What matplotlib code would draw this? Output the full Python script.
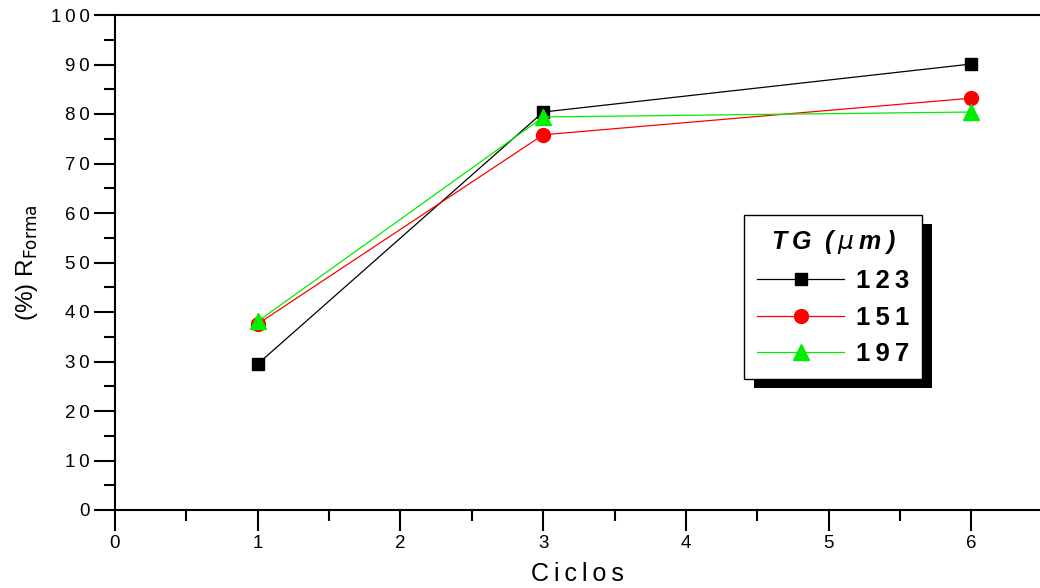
import matplotlib
matplotlib.use("Agg")
import matplotlib.pyplot as plt
from matplotlib.patches import Rectangle
from matplotlib.transforms import IdentityTransform
from matplotlib.ticker import MultipleLocator, FuncFormatter

plt.rcParams['font.family'] = ['Liberation Sans', 'DejaVu Sans']

ciclos = [1, 3, 6]
tg_123 = [29.5, 80.4, 90.1]
tg_151 = [37.6, 75.8, 83.2]
tg_197 = [38.1, 79.4, 80.4]
etiquetas = ['123', '151', '197']

TS = '\u2009'  # espacio fino para separar las letras como en el original


def espaciado(texto):
    return TS.join(texto)


fig = plt.figure(figsize=(10.4, 5.88), dpi=100)
ax = fig.add_axes([115 / 1040, 78 / 588, 925 / 1040, 495 / 588])

ax.plot(ciclos, tg_123, color='black', lw=0.9, marker='s', ms=9, mec='black', label=espaciado(etiquetas[0]))
ax.plot(ciclos, tg_151, color='red', lw=0.9, marker='o', ms=10, mec='red', label=espaciado(etiquetas[1]))
ax.plot(ciclos, tg_197, color='#00ee00', lw=0.9, marker='^', ms=11, mec='#00ee00', label=espaciado(etiquetas[2]))

ax.set_xlim(0, 6.48)
ax.set_ylim(0, 100)
ax.xaxis.set_major_locator(MultipleLocator(1))
ax.xaxis.set_minor_locator(MultipleLocator(0.5))
ax.yaxis.set_major_locator(MultipleLocator(10))
ax.yaxis.set_minor_locator(MultipleLocator(5))
fmt = FuncFormatter(lambda v, p: espaciado(f'{v:g}'))
ax.xaxis.set_major_formatter(fmt)
ax.yaxis.set_major_formatter(fmt)
ax.tick_params(which='major', direction='out', length=15, width=1.5, labelsize=13.5, pad=3)
ax.tick_params(which='minor', direction='out', length=8, width=1.5)
ax.spines['right'].set_visible(False)
for s in ['left', 'bottom', 'top']:
    ax.spines[s].set_linewidth(1.5)

ax.set_xlabel(espaciado('Ciclos'), fontsize=18, labelpad=7)
ax.set_ylabel(r'(%) R$_{\mathrm{Forma}}$', fontsize=17.5, labelpad=8)

leg = ax.legend(title=espaciado('TG') + '  ' + TS.join(['(', r'$\mu$', 'm', ')']),
                loc='upper left', bbox_to_anchor=(0.68, 0.596),
                fancybox=False, framealpha=1, edgecolor='black', handlelength=3.4,
                prop={'weight': 'bold', 'size': 18.5}, borderpad=0.5, labelspacing=0.5,
                handletextpad=0.45, borderaxespad=0)
leg.get_title().set_fontsize(18)
leg.get_title().set_fontweight('bold')
leg.get_title().set_fontstyle('italic')
leg.get_frame().set_linewidth(1)
leg.set_zorder(5)

fig.canvas.draw()
bb = leg.get_window_extent()
sombra = Rectangle((bb.x0 + 10, bb.y0 - 9), bb.width, bb.height, transform=IdentityTransform(),
                   facecolor='black', edgecolor='none', zorder=4.5, clip_on=False)
ax.add_artist(sombra)

fig.savefig('out.png', dpi=100)
